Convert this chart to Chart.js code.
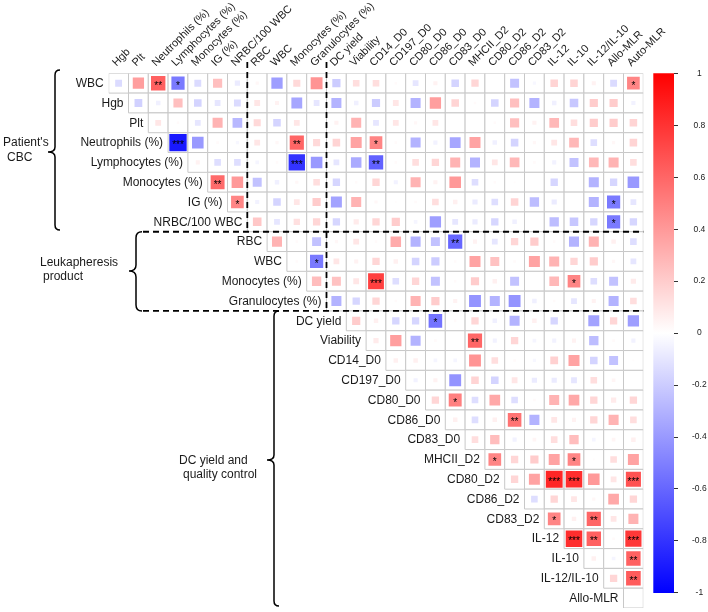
<!DOCTYPE html>
<html><head><meta charset="utf-8">
<script src="https://cdn.jsdelivr.net/npm/chart.js@4.4.1/dist/chart.umd.min.js"></script>
<style>
html,body{margin:0;padding:0;background:#fff;}
#wrap{position:relative;width:708px;height:612px;overflow:hidden;background:#fff;}
#main{position:absolute;left:0;top:0;}
#cbar{position:absolute;left:640px;top:0;}
</style></head><body>
<div id="wrap"><canvas id="main" width="708" height="612"></canvas><canvas id="cbar" width="68" height="612"></canvas></div>
<script>
// ---- column (x) labels ----
const colLabels = ['Hgb','Plt','Neutrophils (%)','Lymphocytes (%)','Monocytes (%)','IG (%)','NRBC/100 WBC','RBC','WBC','Monocytes (%)','Granulocytes (%)','DC yield','Viability','CD14_D0','CD197_D0','CD80_D0','CD86_D0','CD83_D0','MHCII_D2','CD80_D2','CD86_D2','CD83_D2','IL-12','IL-10','IL-12/IL-10','Allo-MLR','Auto-MLR'];
// ---- row labels ----
const rowLabels = ['WBC','Hgb','Plt','Neutrophils (%)','Lymphocytes (%)','Monocytes (%)','IG (%)','NRBC/100 WBC','RBC','WBC','Monocytes (%)','Granulocytes (%)','DC yield','Viability','CD14_D0','CD197_D0','CD80_D0','CD86_D0','CD83_D0','MHCII_D2','CD80_D2','CD86_D2','CD83_D2','IL-12','IL-10','IL-12/IL-10','Allo-MLR'];
// ---- correlation values, one array per row (columns from the diagonal to Auto-MLR) ----
const r_WBC      = [-0.14,0.38,0.62,-0.52,-0.14,0.25,-0.08,0.03,-0.38,0.15,0.42,-0.2,0.13,0.13,0.02,-0.1,0.05,-0.17,0.16,0,-0.24,-0.03,0.17,0.17,0.05,-0.14,0.48];
const r_Hgb      = [-0.18,-0.06,0.25,-0.17,-0.1,-0.14,0.1,0.05,-0.35,-0.1,-0.3,-0.06,-0.2,0.1,-0.3,0.38,0.17,0.02,-0.17,0.25,-0.3,-0.06,-0.22,0.2,0.2,-0.05];
const r_Plt      = [0.1,0.02,-0.1,0.3,-0.28,0.15,-0.17,0.1,0,0.05,0.3,-0.1,0.1,0.03,0.1,0,0,0.02,0.25,0.05,0.28,0.13,0.2,0.2,0.17];
const r_Neut     = [-0.9,-0.4,0.02,-0.03,0.1,0.03,0.6,0.15,0.17,0.36,0.48,0.02,-0.3,-0.05,-0.35,0.36,-0.06,-0.17,0.03,0.1,0.28,-0.13,0.03,0.17];
const r_Lymph    = [0.05,-0.13,-0.13,-0.04,0.02,-0.8,-0.4,-0.1,-0.33,-0.62,0.02,0.13,0.16,0.3,-0.3,0.1,0.28,0.02,-0.05,-0.24,0.28,0.3,0.13];
const r_Mono     = [0.58,0.4,-0.24,-0.06,0.03,0.13,-0.16,0.02,0.16,-0.05,0.3,0.05,0.4,-0.13,0.02,0.01,0,-0.16,0,-0.3,-0.16,-0.4];
const r_IG       = [0.48,-0.05,-0.17,0.1,0.2,-0.36,0.3,0.03,0.01,0.02,0.13,0.06,-0.08,-0.13,0.17,-0.26,-0.08,0,-0.3,-0.52,-0.1];
const r_NRBC     = [0.22,-0.1,0.12,0.16,-0.16,0.08,0.16,0.2,-0.04,-0.38,-0.1,-0.08,-0.16,-0.06,0,-0.26,-0.22,-0.16,-0.52,-0.16];
const r_RBC      = [0.3,0.02,-0.24,0.03,0.1,0.02,0.33,-0.3,-0.24,-0.6,0.05,-0.1,0.16,0.2,0.02,-0.3,0.3,0.06,-0.13];
const r_WBC_L    = [0.02,-0.52,0.1,0.05,0.16,0.06,-0.17,-0.2,0.02,0.36,0.24,0.02,0.36,0.3,0.16,0.2,0.03,-0.1];
const r_Mono_L   = [0.26,0.24,0.1,0.75,-0.13,0.16,-0.24,0.02,0.2,0.06,-0.24,0,0.28,0.48,-0.13,-0.24,0.08];
const r_Gran     = [-0.3,-0.16,0.16,0.02,0.3,0.2,0.05,-0.42,-0.3,-0.42,-0.06,0.02,-0.1,0.05,-0.3,0.13];
const r_DCyield  = [0.2,0.06,-0.16,-0.16,-0.55,0.02,0.16,-0.06,-0.3,0.06,-0.16,0,-0.36,0.16,-0.38];
const r_Viab     = [0.08,0.38,-0.3,0.02,0,0.6,-0.05,0.16,-0.04,-0.05,0.05,-0.26,0.02,-0.05];
const r_CD14_D0  = [0.06,0.06,-0.04,-0.04,0.42,0.13,0.02,-0.03,0.18,0.36,-0.17,-0.24,0.01];
const r_CD197_D0 = [-0.05,0.05,-0.42,0.17,-0.17,0.1,-0.08,-0.08,-0.1,0.13,0.04,0];
const r_CD80_D0  = [0.16,0.5,-0.13,0.34,-0.13,0.02,0.3,0.34,0.16,0.08,0.16];
const r_CD86_D0  = [0.06,-0.13,0.06,0.55,-0.3,0.1,0.05,0.16,0.3,0.13];
const r_CD83_D0  = [0.13,0.26,-0.05,0.04,0.13,0.26,-0.04,0.04,0.06];
const r_MHCII_D2 = [0.48,0.16,0.2,0.36,0.48,0.01,0.13,0.36];
const r_CD80_D2  = [0.16,0.36,0.85,0.82,0.4,0.1,0.68];
const r_CD86_D2  = [-0.13,0.16,0.1,0.03,0.34,0.16];
const r_CD83_D2  = [0.48,0.06,0.6,0.1,0.3];
const r_IL12     = [0.82,0.62,0.02,0.78];
const r_IL10     = [0.06,-0.04,0.62];
const r_Ratio    = [0.16,0.64];
const r_AlloMLR  = [0];
// ---- significance marks (row index, column index, stars) ----
const sigRow   = [0,0,0,3,3,3,4,4,5,6,6,7,8,9,10,10,12,13,16,17,19,19,20,20,20,22,22,23,23,23,24,25];
const sigCol   = [2,3,26,3,9,13,9,13,5,6,25,25,17,10,13,23,16,18,17,20,19,23,22,23,26,22,24,23,24,26,26,26];
const sigStars = ['**','*','*','***','**','*','***','**','**','*','*','*','**','*','***','*','*','**','*','**','*','*','***','***','***','*','**','***','**','***','**','**'];
// ---- colour bar ticks ----
const cbarMin = -1, cbarMax = 1, cbarStep = 0.2;

const rowValues = [r_WBC,r_Hgb,r_Plt,r_Neut,r_Lymph,r_Mono,r_IG,r_NRBC,r_RBC,r_WBC_L,r_Mono_L,r_Gran,r_DCyield,r_Viab,r_CD14_D0,r_CD197_D0,r_CD80_D0,r_CD86_D0,r_CD83_D0,r_MHCII_D2,r_CD80_D2,r_CD86_D2,r_CD83_D2,r_IL12,r_IL10,r_Ratio,r_AlloMLR];

const FONT = "'Liberation Sans', Arial, Helvetica, sans-serif";
Chart.defaults.font.family = FONT;

const cellData = [], boxData = [];
rowValues.forEach((vals, r) => vals.forEach((v, k) => {
  const c = r + k;
  boxData.push({x: c, y: r});
  cellData.push({x: c, y: r, v: v});
}));

function cellPx(chart){ const s = chart.scales.x; return Math.abs(s.getPixelForValue(1) - s.getPixelForValue(0)); }
function colorFor(v){
  const t = Math.min(1, Math.abs(v)); const w = Math.round(255*(1-t));
  return v >= 0 ? `rgb(255,${w},${w})` : `rgb(${w},${w},255)`;
}

function brace(ctx, x, y1, y2, tipX, tipY, hook){
  ctx.beginPath();
  ctx.moveTo(x + hook, y1);
  ctx.quadraticCurveTo(x, y1, x, y1 + hook);
  ctx.lineTo(x, tipY - hook);
  ctx.quadraticCurveTo(x, tipY, tipX, tipY);
  ctx.quadraticCurveTo(x, tipY, x, tipY + hook);
  ctx.lineTo(x, y2 - hook);
  ctx.quadraticCurveTo(x, y2, x + hook, y2);
  ctx.stroke();
}

const decor = {
  id: 'decor',
  afterDraw(chart){
    const ctx = chart.ctx, xs = chart.scales.x, ys = chart.scales.y, cell = cellPx(chart);
    ctx.save();
    // row labels (staircase)
    ctx.font = `12px ${FONT}`; ctx.fillStyle = '#1a1a1a'; ctx.textAlign = 'right'; ctx.textBaseline = 'middle';
    rowLabels.forEach((lab, r) => ctx.fillText(lab, xs.getPixelForValue(r) - cell/2 - 5, ys.getPixelForValue(r) + 0.5));
    // stars
    ctx.font = `10px ${FONT}`; ctx.textAlign = 'center'; ctx.textBaseline = 'alphabetic'; ctx.fillStyle = '#000';
    sigRow.forEach((r, i) => ctx.fillText(sigStars[i], xs.getPixelForValue(sigCol[i]), ys.getPixelForValue(r) + 5.5));
    // dashed group separators
    ctx.strokeStyle = '#000'; ctx.lineWidth = 1.8; ctx.setLineDash([6, 4]);
    const xa = xs.getPixelForValue(6.5), xb = xs.getPixelForValue(10.5), xr = xs.getPixelForValue(26.5);
    const ya = ys.getPixelForValue(7.5), yb = ys.getPixelForValue(11.5);
    ctx.beginPath();
    ctx.moveTo(xa, 62); ctx.lineTo(xa, ya);
    ctx.moveTo(xb, 62); ctx.lineTo(xb, yb);
    ctx.moveTo(143, ya); ctx.lineTo(xr, ya);
    ctx.moveTo(143, yb); ctx.lineTo(xr, yb);
    ctx.stroke();
    ctx.setLineDash([]);
    // braces
    ctx.lineWidth = 1.5;
    brace(ctx, 55, 70, 230, 48, 152, 5);
    brace(ctx, 136, ya, yb, 129, 271, 6);
    brace(ctx, 274, yb, 606, 267, 460, 5);
    // group labels
    ctx.font = `12px ${FONT}`; ctx.textAlign = 'left'; ctx.textBaseline = 'middle'; ctx.fillStyle = '#1a1a1a';
    ctx.fillText("Patient's", 3, 143); ctx.fillText('CBC', 7, 158);
    ctx.fillText('Leukapheresis', 40, 263); ctx.fillText('product', 43, 277);
    ctx.fillText('DC yield and', 179, 461); ctx.fillText('quality control', 183, 475);
    ctx.restore();
  }
};

new Chart(document.getElementById('main'), {
  type: 'scatter',
  data: { datasets: [
    { label: 'cells', data: cellData, order: 1, pointStyle: 'rect',
      pointRadius: ctx => { const raw = ctx.raw; if (!raw) return 0; const side = (cellPx(ctx.chart) - 1.5) * Math.sqrt(Math.abs(raw.v)); return side / Math.SQRT2; },
      pointBackgroundColor: ctx => ctx.raw ? colorFor(ctx.raw.v) : 'transparent',
      pointBorderWidth: 0, pointBorderColor: 'rgba(0,0,0,0)' },
    { label: 'grid', data: boxData, order: 2, pointStyle: 'rect',
      pointRadius: ctx => cellPx(ctx.chart) / Math.SQRT2,
      pointBackgroundColor: '#ffffff', pointBorderColor: '#c8c8c8', pointBorderWidth: 1 }
  ]},
  options: {
    responsive: false, devicePixelRatio: 1, animation: false, events: [],
    layout: { padding: { left: 108.7, right: 64.7, top: 0, bottom: 4 } },
    plugins: { legend: { display: false }, tooltip: { enabled: false } },
    scales: {
      x: { type: 'linear', position: 'top', min: -0.5, max: 26.5,
        afterBuildTicks: s => { s.ticks = colLabels.map((_, i) => ({ value: i })); },
        afterFit: s => { s.height = 73.3; s.paddingLeft = 0; s.paddingRight = 0; },
        ticks: { autoSkip: false, maxRotation: 45, minRotation: 45, padding: 4, labelOffset: 5, color: '#1a1a1a',
          font: { size: 11, family: FONT }, callback: v => colLabels[v] },
        grid: { display: false, drawTicks: false }, border: { display: false } },
      y: { type: 'linear', min: -0.5, max: 26.5, reverse: true, display: false }
    }
  },
  plugins: [decor]
});

new Chart(document.getElementById('cbar'), {
  type: 'bar',
  data: { labels: ['r'], datasets: [{ data: [[cbarMin, cbarMax]], borderWidth: 0, barPercentage: 1, categoryPercentage: 1,
    backgroundColor: ctx => {
      const ca = ctx.chart.chartArea; if (!ca) return '#fff';
      const g = ctx.chart.ctx.createLinearGradient(0, ca.top, 0, ca.bottom);
      g.addColorStop(0, '#ff0000'); g.addColorStop(0.5, '#ffffff'); g.addColorStop(1, '#0000ff');
      return g;
    } }] },
  options: {
    responsive: false, devicePixelRatio: 1, animation: false, events: [],
    layout: { padding: { left: 13.3, top: 73.3, bottom: 5.4, right: 0 } },
    plugins: { legend: { display: false }, tooltip: { enabled: false } },
    scales: {
      x: { display: false },
      y: { position: 'right', min: cbarMin, max: cbarMax,
        afterFit: s => { s.width = 34; },
        ticks: { stepSize: cbarStep, font: { size: 8.5, family: FONT }, color: '#222', padding: 14, crossAlign: 'center',
          callback: v => String(+v.toFixed(1)) },
        grid: { drawOnChartArea: false, drawTicks: true, tickLength: 4, color: '#333', lineWidth: 1 },
        border: { display: false } }
    }
  }
});
</script></body></html>
